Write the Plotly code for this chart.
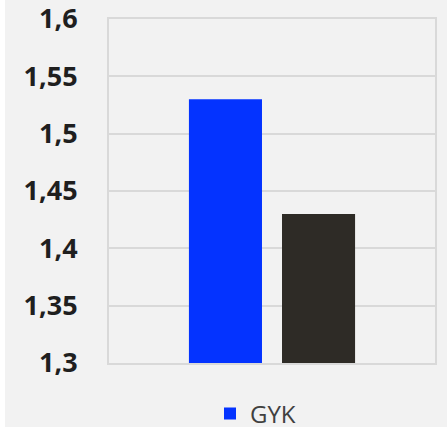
import plotly.graph_objects as go

categories = [""]
series_names = ["GYK", ""]
gyk_values = [1.53]
second_values = [1.43]
tick_values = [1.3, 1.35, 1.4, 1.45, 1.5, 1.55, 1.6]
tick_labels = ["1,3", "1,35", "1,4", "1,45", "1,5", "1,55", "1,6"]

W, H = 447, 427
L, R, T, B = 109, 435, 19, 363

fig = go.Figure()
fig.add_trace(go.Bar(x=categories, y=gyk_values, name=series_names[0],
                     marker=dict(color="#0433ff", line=dict(width=0)), showlegend=True))
fig.add_trace(go.Bar(x=categories, y=second_values, name=series_names[1],
                     marker=dict(color="#2e2b26", line=dict(width=0)), showlegend=False))

pw, ph = R - L, B - T
fig.add_shape(type="rect", xref="paper", yref="paper", layer="below",
              x0=(5 - L) / pw, x1=(W + 5 - L) / pw,
              y0=(B - H - 5) / ph, y1=(B + 5) / ph,
              fillcolor="#f2f2f2", line=dict(width=0))

fig.update_layout(
    width=W, height=H,
    margin=dict(l=L, r=W - R, t=T, b=H - B, pad=0, autoexpand=False),
    paper_bgcolor="#ffffff",
    plot_bgcolor="#f2f2f2",
    barmode="group",
    bargap=0.429,
    bargroupgap=0.215,
    showlegend=True,
    legend=dict(orientation="h", x=(210 - L) / pw, xanchor="left",
                yref="container", y=(H - 414) / H, yanchor="middle",
                font=dict(family="Open Sans", size=24, color="#404040"),
                bgcolor="rgba(0,0,0,0)"),
    xaxis=dict(showticklabels=False, showgrid=False, zeroline=False, automargin=False,
               showline=True, linecolor="#d9d9d9", linewidth=2, mirror=True, ticks=""),
    yaxis=dict(range=[1.3, 1.6], tickvals=tick_values, ticktext=tick_labels,
               automargin=False, ticklabeloverflow="allow",
               showgrid=True, gridcolor="#d9d9d9", gridwidth=2, zeroline=False,
               showline=True, linecolor="#d9d9d9", linewidth=2, mirror=True, ticks="",
               ticklabelstandoff=24,
               tickfont=dict(family="Open Sans", size=27, color="#1f1f1f", weight="bold")),
)

fig.write_html("out.html", config={"displayModeBar": False},
               post_script="document.body.style.margin='0';document.body.style.overflow='hidden';")
